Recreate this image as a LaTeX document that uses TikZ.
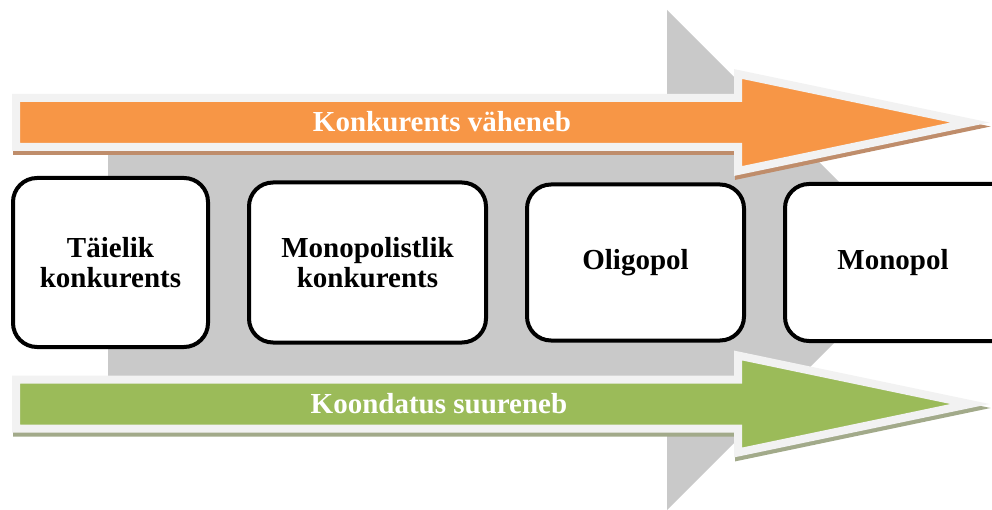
\documentclass[tikz,border=0pt]{standalone}
\usepackage{fontspec}
\setmainfont{Liberation Serif}
\usetikzlibrary{positioning}
\definecolor{bggray}{HTML}{C9C9C9}
\definecolor{orangefill}{HTML}{F79646}
\definecolor{orangeshade}{HTML}{BF8D6B}
\definecolor{greenfill}{HTML}{9BBB59}
\definecolor{greenshade}{HTML}{A2AA8A}
\definecolor{rim}{HTML}{F2F2F2}
% one band arrow: centre line, fill, shadow
\newcommand{\bandarrow}[3]{%
  \draw[line width=8pt,#3,fill=#3,shift={(1,4)}] (16,#1-24.5) -- (738,#1-24.5) -- (738,#1-48.5) -- (970,#1)
    -- (738,#1+48.5) -- (738,#1+24.5) -- (16,#1+24.5) -- cycle;
  \draw[line width=8pt,rim,fill=#2] (16,#1-24.5) -- (738,#1-24.5) -- (738,#1-48.5) -- (970,#1)
    -- (738,#1+48.5) -- (738,#1+24.5) -- (16,#1+24.5) -- cycle;}

\begin{document}
\begin{tikzpicture}[x=1pt,y=-1pt,node distance=37pt,
  stage/.style={draw,line width=4pt,fill=white,rounded corners=24pt,align=center,inner sep=0pt,
    font=\bfseries\fontsize{29}{30}\selectfont},
  bandtext/.style={anchor=base,text=white,font=\bfseries\fontsize{29}{30}\selectfont}]
  \useasboundingbox (0,0) rectangle (992,510);
  \clip (0,0) rectangle (992,510);

  % big gray arrow behind
  \fill[bggray] (108,140) -- (667,140) -- (667,10) -- (917,260) -- (667,510) -- (667,390) -- (108,390) -- cycle;

  \bandarrow{122.5}{orangefill}{orangeshade}
  \bandarrow{404}{greenfill}{greenshade}

  \node (less) [bandtext] at (442,132) {Konkurents väheneb};
  \node (more) [bandtext] at (439,413) {Koondatus suureneb};

  \node (full) [stage,minimum width=195pt,minimum height=169pt] at (110.5,262.5) {Täielik\\konkurents};
  \node (monocomp) [stage,minimum width=237pt,minimum height=160pt,right=of full] {Monopolistlik\\konkurents};
  \node (oligo) [stage,minimum width=217pt,minimum height=156pt,right=of monocomp] {Oligopol};
  % last box runs off the page on the right
  \node (mono) [stage,minimum width=240pt,minimum height=157pt,right=of oligo] {Monopol\hspace*{24pt}};
\end{tikzpicture}
\end{document}
